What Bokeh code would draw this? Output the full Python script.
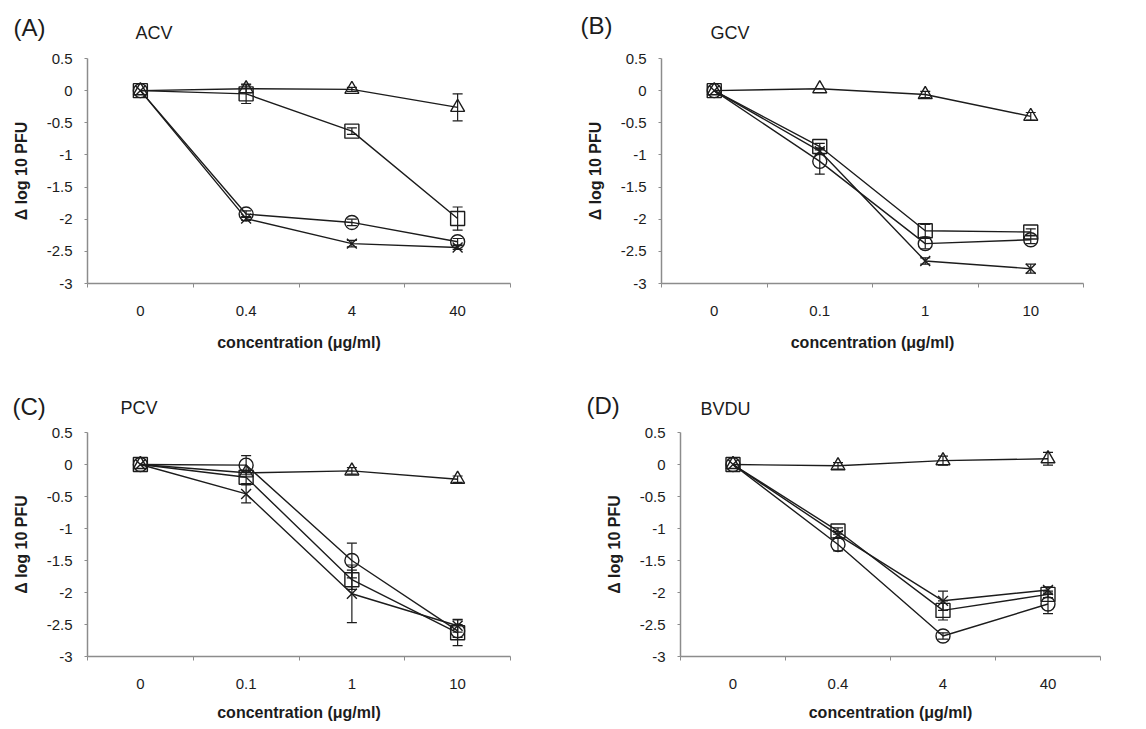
from bokeh.plotting import figure
from bokeh.layouts import column, row
from bokeh.models import FixedTicker, Label, Whisker, ColumnDataSource, TeeHead, Range1d
from bokeh.embed import file_html
from bokeh.resources import INLINE

# ---------------- data ----------------
y_ticks = [0.5, 0, -0.5, -1, -1.5, -2, -2.5, -3]
y_tick_labels = ["0.5", "0", "-0.5", "-1", "-1.5", "-2", "-2.5", "-3"]

A_x = ["0", "0.4", "4", "40"]
A_square = [0, -0.05, -0.63, -1.99]
A_square_err = [0, 0.15, 0.05, 0.18]
A_triangle = [0, 0.03, 0.02, -0.26]
A_triangle_err = [0, 0.06, 0.03, 0.21]
A_circle = [0, -1.92, -2.05, -2.35]
A_circle_err = [0, 0.05, 0.05, 0.05]
A_cross = [0, -1.99, -2.38, -2.44]
A_cross_err = [0, 0.03, 0.05, 0.03]

B_x = ["0", "0.1", "1", "10"]
B_square = [0, -0.87, -2.18, -2.2]
B_square_err = [0, 0.05, 0.1, 0.05]
B_triangle = [0, 0.03, -0.06, -0.4]
B_triangle_err = [0, 0, 0.05, 0.06]
B_circle = [0, -1.1, -2.38, -2.32]
B_circle_err = [0, 0.2, 0.08, 0.06]
B_cross = [0, -0.94, -2.65, -2.77]
B_cross_err = [0, 0.05, 0.05, 0.07]

C_x = ["0", "0.1", "1", "10"]
C_square = [0, -0.2, -1.8, -2.63]
C_square_err = [0, 0.1, 0.15, 0.2]
C_triangle = [0, -0.13, -0.1, -0.23]
C_triangle_err = [0, 0, 0.05, 0.05]
C_circle = [0, -0.01, -1.5, -2.6]
C_circle_err = [0, 0.15, 0.27, 0.1]
C_cross = [0, -0.46, -2.02, -2.52]
C_cross_err = [0, 0.14, 0.45, 0.1]

D_x = ["0", "0.4", "4", "40"]
D_square = [0, -1.04, -2.28, -2.03]
D_square_err = [0, 0.05, 0.15, 0.05]
D_triangle = [0, -0.02, 0.06, 0.09]
D_triangle_err = [0, 0.05, 0.07, 0.1]
D_circle = [0, -1.25, -2.68, -2.18]
D_circle_err = [0, 0.1, 0.05, 0.15]
D_cross = [0, -1.1, -2.13, -1.96]
D_cross_err = [0, 0.05, 0.15, 0.05]

panel_letters = ["(A)", "(B)", "(C)", "(D)"]
drug_names = ["ACV", "GCV", "PCV", "BVDU"]

series_sets = [
    (A_x, [(A_square, A_square_err, "square"), (A_triangle, A_triangle_err, "triangle"),
           (A_circle, A_circle_err, "circle"), (A_cross, A_cross_err, "x")]),
    (B_x, [(B_square, B_square_err, "square"), (B_triangle, B_triangle_err, "triangle"),
           (B_circle, B_circle_err, "circle"), (B_cross, B_cross_err, "x")]),
    (C_x, [(C_square, C_square_err, "square"), (C_triangle, C_triangle_err, "triangle"),
           (C_circle, C_circle_err, "circle"), (C_cross, C_cross_err, "x")]),
    (D_x, [(D_square, D_square_err, "square"), (D_triangle, D_triangle_err, "triangle"),
           (D_circle, D_circle_err, "circle"), (D_cross, D_cross_err, "x")]),
]

# ---------------- layout / style ----------------
W = 565
HEADER_H = [46, 64]          # header strip heights for the two rows
PLOT_H = [310, 306]          # plot heights for the two rows
# plot borders (left, top, right, bottom)
borders = [(87, 12, 55, 71), (96, 11, 47, 73), (87, 12, 55, 69), (115, 11, 30, 70)]
x_label_standoff = [15, 15, 12, 12]
# header text positions (page x, y from top of the header strip)
letter_pos = [(13, 27), (580, 25), (12, 50), (586, 49)]
drug_pos = [(135, 32), (710, 32), (120, 51), (700, 52)]

INK = "#1c1c1c"
AXC = "#8c8c8c"
FONT = "Liberation Sans"


def make_header(row_i):
    hh = HEADER_H[row_i]
    h = figure(width=2 * W, height=hh, output_backend="svg", toolbar_location=None,
               x_axis_location=None, y_axis_location=None, min_border=0,
               min_border_left=0, min_border_right=0, min_border_top=0, min_border_bottom=0,
               x_range=Range1d(0, 1), y_range=Range1d(0, 1))
    h.outline_line_color = None
    h.grid.visible = False
    for k in (2 * row_i, 2 * row_i + 1):
        h.add_layout(Label(x=letter_pos[k][0], y=hh - letter_pos[k][1],
                           x_units="screen", y_units="screen",
                           text=panel_letters[k], text_font=FONT, text_font_size="24px",
                           text_color=INK, text_baseline="middle", text_align="left"))
        h.add_layout(Label(x=drug_pos[k][0], y=hh - drug_pos[k][1],
                           x_units="screen", y_units="screen",
                           text=drug_names[k], text_font=FONT, text_font_size="18px",
                           text_color=INK, text_baseline="middle", text_align="left"))
    return h


def make_plot(k):
    xl, series = series_sets[k]
    bord = borders[k]
    p = figure(width=W, height=PLOT_H[k // 2], output_backend="svg", toolbar_location=None,
               x_range=Range1d(0, 4), y_range=Range1d(-3, 0.5),
               min_border_left=bord[0], min_border_top=bord[1],
               min_border_right=bord[2], min_border_bottom=bord[3])
    p.outline_line_color = None
    p.grid.visible = False

    xs = [i + 0.5 for i in range(len(xl))]
    xa = p.xaxis[0]
    xa.ticker = FixedTicker(ticks=xs, minor_ticks=[0, 1, 2, 3, 4])
    xa.major_label_overrides = {x: l for x, l in zip(xs, xl)}
    xa.major_tick_line_color = None
    xa.minor_tick_in = 0
    xa.minor_tick_out = 4
    xa.minor_tick_line_color = AXC
    xa.axis_line_color = AXC
    xa.axis_line_width = 1.5
    xa.major_label_text_font = FONT
    xa.major_label_text_font_size = "15px"
    xa.major_label_text_color = INK
    xa.major_label_standoff = 16
    xa.axis_label = "concentration (\u03bcg/ml)"
    xa.axis_label_text_font = FONT
    xa.axis_label_text_font_style = "bold"
    xa.axis_label_text_font_size = "16px"
    xa.axis_label_text_color = INK
    xa.axis_label_standoff = x_label_standoff[k]

    ya = p.yaxis[0]
    ya.ticker = FixedTicker(ticks=y_ticks, minor_ticks=[])
    ya.major_label_overrides = {t: l for t, l in zip(y_ticks, y_tick_labels)}
    ya.major_tick_in = 0
    ya.major_tick_out = 3
    ya.major_tick_line_color = AXC
    ya.axis_line_color = AXC
    ya.axis_line_width = 1.5
    ya.major_label_text_font = FONT
    ya.major_label_text_font_size = "15px"
    ya.major_label_text_color = INK
    ya.major_label_standoff = 12
    ya.axis_label = "\u0394 log 10 PFU"
    ya.axis_label_text_font = FONT
    ya.axis_label_text_font_style = "bold"
    ya.axis_label_text_font_size = "16px"
    ya.axis_label_text_color = INK
    ya.axis_label_standoff = 14

    for vals, errs, mk in series:
        p.line(xs, vals, line_color=INK, line_width=1.4)
        wx = [x for x, e in zip(xs, errs) if e > 0]
        wu = [v + e for v, e in zip(vals, errs) if e > 0]
        wl = [v - e for v, e in zip(vals, errs) if e > 0]
        if wx:
            src = ColumnDataSource(dict(x=wx, upper=wu, lower=wl))
            w = Whisker(source=src, base="x", upper="upper", lower="lower",
                        line_color=INK, line_width=1.2,
                        upper_head=TeeHead(size=10, line_color=INK, line_width=1.2),
                        lower_head=TeeHead(size=10, line_color=INK, line_width=1.2))
            p.add_layout(w)
        p.scatter(xs, vals, marker=mk, size=14, line_color=INK, line_width=1.4, fill_color=None)
    return p


layout = column(make_header(0), row(make_plot(0), make_plot(1)),
                make_header(1), row(make_plot(2), make_plot(3)))
open("out.html", "w").write(file_html(layout, INLINE))
